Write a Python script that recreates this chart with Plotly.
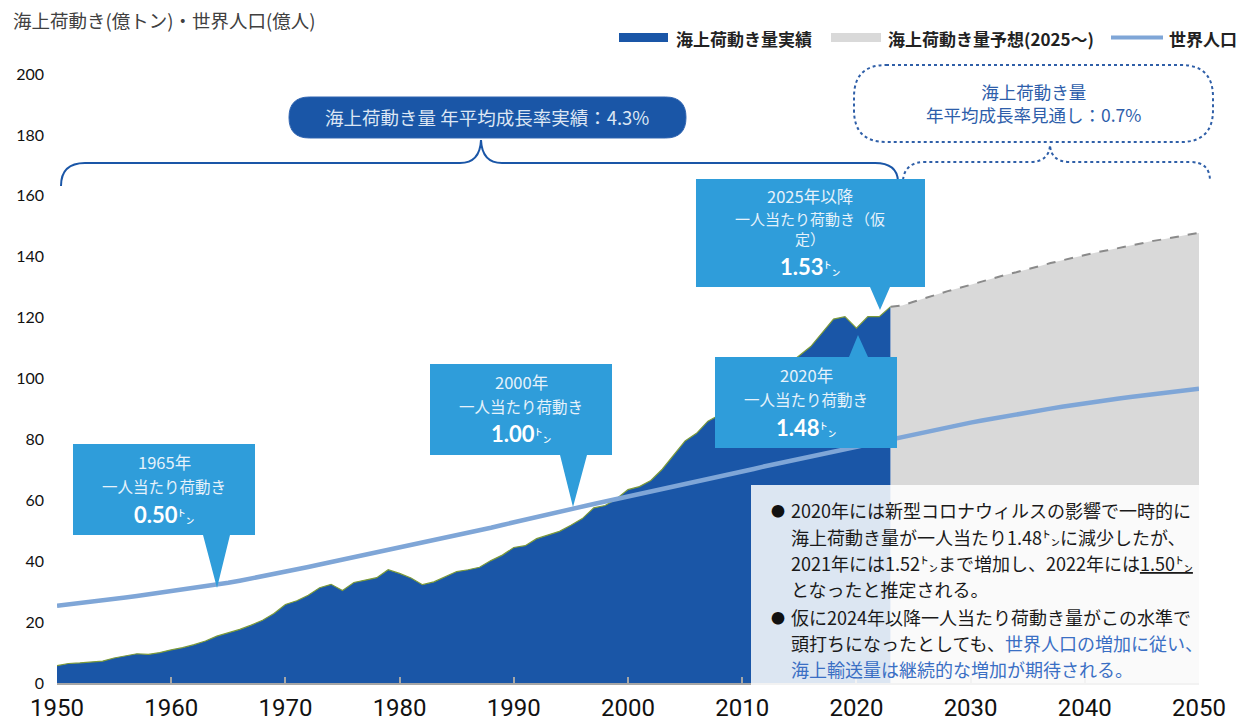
import plotly.graph_objects as go

# ---------------- data ----------------
years_actual = list(range(1950, 2024))
cargo_actual = [5.7, 6.4, 6.6, 6.8, 7.2, 8.2, 9.0, 9.6, 9.4, 10.0,
                10.9, 11.6, 12.6, 13.8, 15.4, 16.5, 17.6, 19.0, 20.6, 22.8,
                25.8, 27.0, 28.8, 31.3, 32.4, 30.4, 33.0, 33.8, 34.6, 37.2,
                36.0, 34.5, 32.3, 33.2, 35.0, 36.6, 37.2, 38.0, 40.2, 42.0,
                44.5, 45.1, 47.4, 48.6, 49.8, 51.8, 54.0, 57.5, 58.3, 60.5,
                63.5, 64.5, 66.5, 70.2, 75.0, 79.5, 82.0, 86.0, 88.0, 85.0,
                90.5, 94.0, 98.0, 101.0, 104.5, 107.5, 110.5, 115.0, 119.5, 120.3,
                116.5, 120.3, 120.3, 123.6]

years_forecast = list(range(2023, 2051))
cargo_forecast = [123.6, 124.0, 125.2, 126.4, 127.4, 128.7, 129.7, 130.8, 131.9, 133.0,
                  134.0, 134.9, 136.0, 136.9, 137.9, 138.8, 139.7, 140.6, 141.4, 142.1,
                  142.9, 143.7, 144.4, 145.2, 145.8, 146.6, 147.2, 147.8]

years_pop = list(range(1950, 2051))
population = [25.4, 25.8, 26.2, 26.7, 27.1, 27.6, 28.1, 28.6, 29.1, 29.7,
              30.2, 30.7, 31.2, 31.7, 32.3, 32.9, 33.6, 34.3, 35.0, 35.8,
              36.6, 37.4, 38.1, 38.9, 39.7, 40.5, 41.3, 42.0, 42.8, 43.6,
              44.4, 45.1, 45.9, 46.7, 47.5, 48.4, 49.2, 50.1, 51.0, 51.9,
              52.8, 53.7, 54.6, 55.4, 56.3, 57.1, 58.0, 58.8, 59.6, 60.4,
              61.2, 62.0, 62.8, 63.6, 64.5, 65.3, 66.1, 67.0, 67.8, 68.6,
              69.5, 70.3, 71.2, 72.0, 72.9, 73.7, 74.5, 75.4, 76.2, 77.0,
              77.8, 78.6, 79.4, 80.2, 81.0, 81.8, 82.6, 83.3, 84.1, 84.8,
              85.5, 86.2, 86.9, 87.6, 88.2, 88.9, 89.5, 90.1, 90.7, 91.3,
              91.9, 92.4, 92.9, 93.4, 93.9, 94.4, 94.9, 95.3, 95.8, 96.2,
              96.6]

x_ticks = [1950, 1960, 1970, 1980, 1990, 2000, 2010, 2020, 2030, 2040, 2050]
y_ticks = [0, 20, 40, 60, 80, 100, 120, 140, 160, 180, 200]

series_names = ["海上荷動き量実績", "海上荷動き量予想(2025〜)", "世界人口"]
axis_title = "海上荷動き(億トン)・世界人口(億人)"

# ---------------- style ----------------
W, H = 1243, 722
L, R, T, B = 57, 1199, 74, 683
DARK_BLUE = "#1A56A7"
GRAY_FILL = "#D9D9D9"
POP_COLOR = "#7FA6D7"
CALLOUT = "#2F9DDA"
OLIVE = "#7C9A3A"
JP = "Noto Sans CJK JP"
NUM = "Lato"


def px(x):
    return (x - L) / (R - L)


def py(y):
    return (B - y) / (B - T)


def path(cmds):
    out = []
    for c in cmds:
        if isinstance(c, str):
            out.append(c)
        else:
            out.append(f"{px(c[0]):.5f},{py(c[1]):.5f}")
    return " ".join(out)


def rrect(x0, y0, x1, y1, r):
    return path(["M", (x0 + r, y0), "L", (x1 - r, y0), "Q", (x1, y0), (x1, y0 + r),
                 "L", (x1, y1 - r), "Q", (x1, y1), (x1 - r, y1),
                 "L", (x0 + r, y1), "Q", (x0, y1), (x0, y1 - r),
                 "L", (x0, y0 + r), "Q", (x0, y0), (x0 + r, y0), "Z"])


fig = go.Figure()

fig.add_trace(go.Scatter(x=years_actual, y=cargo_actual, mode="lines", fill="tozeroy",
                         fillcolor=DARK_BLUE, line=dict(color=OLIVE, width=1.2),
                         name=series_names[0], showlegend=False))
fig.add_trace(go.Scatter(x=years_forecast, y=cargo_forecast, mode="lines", fill="tozeroy",
                         fillcolor=GRAY_FILL, line=dict(color="#8A8A8A", width=2, dash="dash"),
                         name=series_names[1], showlegend=False))
fig.add_trace(go.Scatter(x=years_pop, y=population, mode="lines",
                         line=dict(color=POP_COLOR, width=4.5),
                         name=series_names[2], showlegend=False))

shapes = []
annotations = []


def ann(x, y, text, size, color="#222", family=JP, xanchor="center", yanchor="middle"):
    annotations.append(dict(x=px(x), y=py(y), xref="paper", yref="paper", text=text,
                            showarrow=False, xanchor=xanchor, yanchor=yanchor,
                            font=dict(family=family, size=size, color=color)))


# ---- title ----
ann(11, 20, axis_title, 18.5, "#404040", xanchor="left")

# ---- legend (manual) ----
shapes.append(dict(type="rect", xref="paper", yref="paper", x0=px(619), x1=px(668),
                   y0=py(42), y1=py(33), fillcolor=DARK_BLUE, line=dict(width=0)))
ann(674, 38, f"<b>{series_names[0]}</b>", 17, "#222", xanchor="left")
shapes.append(dict(type="rect", xref="paper", yref="paper", x0=px(831), x1=px(881),
                   y0=py(42), y1=py(33), fillcolor=GRAY_FILL, line=dict(width=0)))
ann(886, 38, f"<b>{series_names[1]}</b>", 17, "#222", xanchor="left")
shapes.append(dict(type="line", xref="paper", yref="paper", x0=px(1111), x1=px(1163),
                   y0=py(37.5), y1=py(37.5), line=dict(color=POP_COLOR, width=4)))
ann(1167, 38, f"<b>{series_names[2]}</b>", 17, "#222", xanchor="left")

# ---- actual-growth bracket and pill ----
shapes.append(dict(type="path", xref="paper", yref="paper",
                   path=path(["M", (61, 186), "Q", (61, 163), (85, 163), "L", (460, 163),
                              "Q", (480, 163), (481, 140), "Q", (482, 163), (502, 163),
                              "L", (875, 163), "Q", (897, 163), (898, 181)]),
                   line=dict(color=DARK_BLUE, width=2)))
shapes.append(dict(type="path", xref="paper", yref="paper", path=rrect(289, 97, 686, 138, 20.5),
                   fillcolor=DARK_BLUE, line=dict(color="#2E63B0", width=1)))
ann(487, 117.5, "海上荷動き量 年平均成長率実績：4.3%", 18.5, "#DCE6F4")

# ---- forecast bracket and dotted box ----
shapes.append(dict(type="path", xref="paper", yref="paper",
                   path=path(["M", (903, 180), "Q", (905, 162), (925, 162), "L", (1030, 162),
                              "Q", (1049, 162), (1050, 145), "Q", (1051, 162), (1070, 162),
                              "L", (1190, 162), "Q", (1210, 162), (1210, 181)]),
                   line=dict(color="#2F5FA8", width=2, dash="dot")))
shapes.append(dict(type="path", xref="paper", yref="paper", path=rrect(854, 65, 1213, 142, 32),
                   fillcolor="rgba(0,0,0,0)", line=dict(color="#2F5FA8", width=2, dash="dot")))
ann(1033, 102.5, "海上荷動き量<br>年平均成長率見通し：0.7%", 17.5, "#2E5EAA")


# ---- callouts ----
def callout_down(x0, y0, x1, y1, b0, b1, tx, ty):
    shapes.append(dict(type="path", xref="paper", yref="paper",
                       path=path(["M", (x0, y0), "L", (x1, y0), "L", (x1, y1), "L", (b1, y1),
                                  "L", (tx, ty), "L", (b0, y1), "L", (x0, y1), "Z"]),
                       fillcolor=CALLOUT, line=dict(width=0)))


def callout_up(x0, y0, x1, y1, b0, b1, tx, ty):
    shapes.append(dict(type="path", xref="paper", yref="paper",
                       path=path(["M", (x0, y0), "L", (b0, y0), "L", (tx, ty), "L", (b1, y0),
                                  "L", (x1, y0), "L", (x1, y1), "L", (x0, y1), "Z"]),
                       fillcolor=CALLOUT, line=dict(width=0)))


LIGHT = "#E6F2FB"


def big(num):
    return (f"<b>{num}</b><span style='font-family:{JP};font-size:17px'>㌧</span>")


def callout_text(cx, y_year, year_txt, y_sub, sub_txt, y_num, num, sub_size=15.5):
    ann(cx, y_year, year_txt, 16.5, LIGHT)
    ann(cx, y_sub, sub_txt, sub_size, LIGHT)
    ann(cx, y_num, big(num), 22, "#FFFFFF", family=NUM)


callout_down(73, 444, 255, 535, 203, 230, 217, 588)
callout_text(164, 462, "1965年", 485.5, "一人当たり荷動き", 514, "0.50")

callout_down(430, 364, 612, 455, 560, 587, 573, 507)
callout_text(521, 382, "2000年", 405.5, "一人当たり荷動き", 434, "1.00")

callout_up(715, 357, 897, 448, 849, 868, 858, 335)
callout_text(806, 375, "2020年", 398.5, "一人当たり荷動き", 427, "1.48")

callout_down(696, 179, 925, 287, 870, 890, 880, 310)
callout_text(810, 195.5, "2025年以降", 228.5, "一人当たり荷動き（仮<br>定）", 266.5, "1.53",
             sub_size=15)

# ---- note box ----
shapes.append(dict(type="rect", xref="paper", yref="paper", x0=px(751), x1=px(1201),
                   y0=py(685), y1=py(485), fillcolor="rgba(255,255,255,0.85)",
                   line=dict(width=0), layer="above"))
BLUE_TXT = "#3A6FC4"
note_lines = [
    "2020年には新型コロナウィルスの影響で一時的に",
    "海上荷動き量が一人当たり1.48㌧に減少したが、",
    "2021年には1.52㌧まで増加し、2022年には<u>1.50㌧</u>",
    "となったと推定される。",
    "仮に2024年以降一人当たり荷動き量がこの水準で",
    f"頭打ちになったとしても、<span style='color:{BLUE_TXT}'>世界人口の増加に従い、</span>",
    f"<span style='color:{BLUE_TXT}'>海上輸送量は継続的な増加が期待される。</span>",
]
note_y = [510, 537, 563, 589, 617, 643, 669]
for t, yy in zip(note_lines, note_y):
    ann(789, yy, t, 18, "#1A1A1A", xanchor="left")
ann(778, 510, "●", 14, "#111")
ann(778, 617, "●", 14, "#111")

fig.update_layout(
    width=W, height=H,
    margin=dict(l=L, r=W - R, t=T, b=H - B, autoexpand=False),
    paper_bgcolor="white", plot_bgcolor="white",
    shapes=shapes, annotations=annotations, showlegend=False,
    xaxis=dict(range=[1950, 2050], tickvals=x_ticks, ticktext=[str(v) for v in x_ticks],
               showgrid=False, zeroline=False, showline=True, linecolor="#A6A6A6", linewidth=2,
               ticks="inside", ticklen=6, tickcolor="#A6A6A6", tickwidth=1.5,
               tickfont=dict(family="Liberation Sans Narrow, Arial Narrow, Roboto", size=24, color="#111"),
               ticklabelstandoff=2, automargin=False),
    yaxis=dict(range=[0, 200], tickvals=y_ticks, showgrid=False, zeroline=False, showline=False,
               tickfont=dict(family=NUM, size=16, color="#111"), ticklabelstandoff=12,
               automargin=False),
)

fig.write_html("out.html", config={"displayModeBar": False},
               post_script="document.body.style.margin='0';document.body.style.padding='0';")
